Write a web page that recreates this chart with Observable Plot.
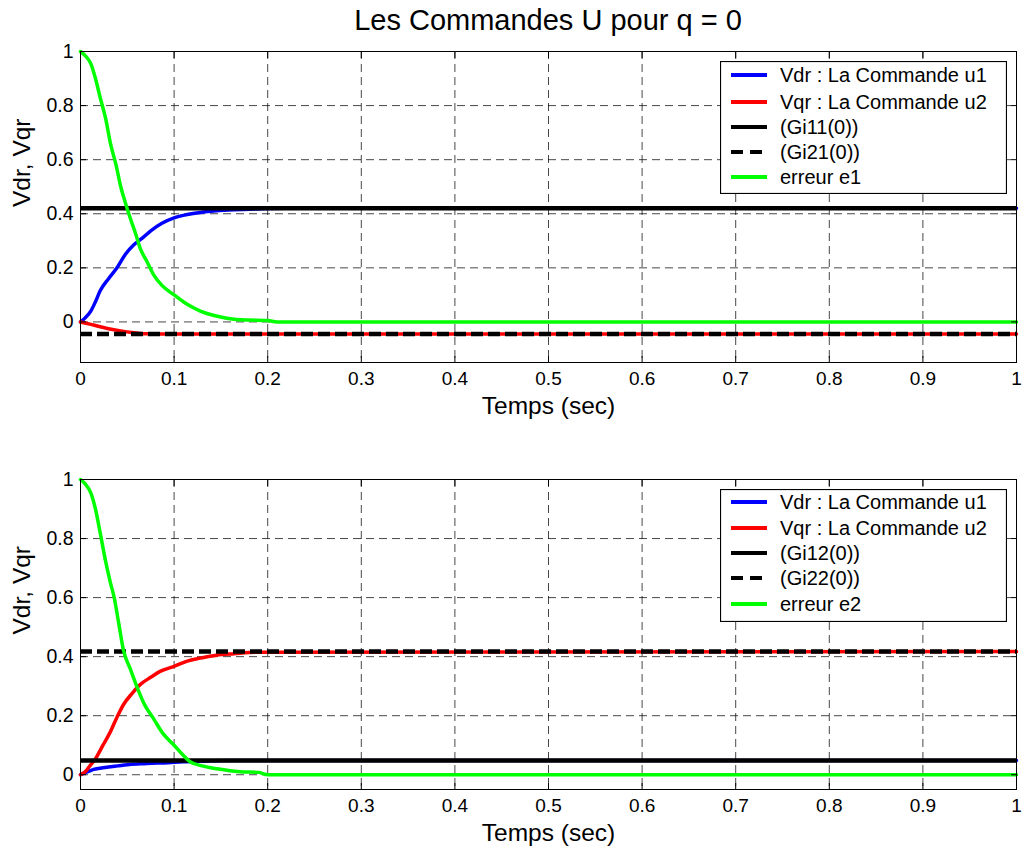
<!DOCTYPE html>
<html><head><meta charset="utf-8">
<script src="https://cdn.jsdelivr.net/npm/d3@7"></script>
<script src="https://cdn.jsdelivr.net/npm/@observablehq/plot@0.6"></script>
<style>
body{margin:0;background:#fff;}
#root{position:relative;width:1024px;height:855px;font-family:"Liberation Sans",Arial,sans-serif;background:#fff;overflow:hidden}
.abs{position:absolute}
#title{left:80px;width:936px;top:6px;text-align:center;font-size:29px;line-height:29px;color:#000;white-space:nowrap}
</style></head><body>
<div id="root"><div id="title" class="abs"></div></div>
<script>
const title = "Les Commandes U pour q = 0";
const xLabel = "Temps (sec)";
const yLabel = "Vdr, Vqr";
const xTicks = [0, 0.1, 0.2, 0.3, 0.4, 0.5, 0.6, 0.7, 0.8, 0.9, 1];
const yTicks = [0, 0.2, 0.4, 0.6, 0.8, 1];
const legend1 = ["Vdr : La Commande u1", "Vqr : La Commande u2", "(Gi11(0))", "(Gi21(0))", "erreur e1"];
const legend2 = ["Vdr : La Commande u1", "Vqr : La Commande u2", "(Gi12(0))", "(Gi22(0))", "erreur e2"];

// ---- top panel (gains Gi11, Gi21) ----
const gi11 = 0.42, gi21 = -0.045;
const tTopU1 = [0, 0.005, 0.011, 0.016, 0.021, 0.03, 0.039, 0.048, 0.057, 0.066, 0.075, 0.087, 0.1, 0.114, 0.128, 0.145, 0.164, 0.19, 0.22, 1];
const vTopU1 = [0, 0.015, 0.04, 0.075, 0.115, 0.16, 0.2, 0.25, 0.285, 0.31, 0.337, 0.365, 0.385, 0.397, 0.405, 0.411, 0.415, 0.418, 0.42, 0.42];
const tTopU2 = [0, 0.01, 0.02, 0.03, 0.043, 0.055, 0.071, 0.085, 0.1, 1];
const vTopU2 = [0, -0.008, -0.017, -0.025, -0.033, -0.039, -0.044, -0.045, -0.045, -0.045];
const tTopE1 = [0, 0.005, 0.011, 0.016, 0.021, 0.027, 0.032, 0.038, 0.043, 0.048, 0.053, 0.059, 0.064, 0.07, 0.078, 0.087, 0.1, 0.114, 0.128, 0.145, 0.164, 0.18, 0.2, 0.21, 1];
const vTopE1 = [1, 0.985, 0.955, 0.9, 0.83, 0.75, 0.66, 0.58, 0.5, 0.44, 0.385, 0.325, 0.27, 0.23, 0.175, 0.135, 0.1, 0.065, 0.04, 0.022, 0.01, 0.007, 0.005, 0, 0];

// ---- bottom panel (gains Gi12, Gi22) ----
const gi12 = 0.048, gi22 = 0.417;
const tBotU1 = [0, 0.005, 0.01, 0.014, 0.021, 0.03, 0.04, 0.05, 0.064, 0.076, 0.089, 0.11, 0.13, 0.16, 1];
const vBotU1 = [0, 0.007, 0.013, 0.018, 0.022, 0.026, 0.03, 0.034, 0.037, 0.039, 0.04, 0.044, 0.046, 0.048, 0.048];
const tBotU2 = [0, 0.005, 0.01, 0.016, 0.024, 0.032, 0.039, 0.046, 0.055, 0.064, 0.075, 0.085, 0.1, 0.114, 0.128, 0.145, 0.164, 0.19, 1];
const vBotU2 = [0, 0.01, 0.03, 0.054, 0.1, 0.146, 0.195, 0.238, 0.275, 0.306, 0.33, 0.35, 0.367, 0.385, 0.395, 0.405, 0.41, 0.415, 0.417];
const tBotE2 = [0, 0.005, 0.011, 0.016, 0.021, 0.027, 0.032, 0.036, 0.041, 0.046, 0.053, 0.06, 0.068, 0.078, 0.088, 0.1, 0.11, 0.117, 0.13, 0.146, 0.17, 0.19, 0.2, 1];
const vBotE2 = [1, 0.985, 0.955, 0.9, 0.82, 0.72, 0.65, 0.6, 0.51, 0.42, 0.36, 0.3, 0.24, 0.19, 0.14, 0.1, 0.065, 0.044, 0.03, 0.02, 0.01, 0.008, 0.0, 0];

const font = '"Liberation Sans", Arial, sans-serif';
const fmt = d => String(d);
const zip = (t, v) => t.map((x, i) => ({t: x, v: v[i]}));

function panel({height, marginTop, marginBottom, yDomain, u1, u2, giSolid, giDash, err}) {
  const lineOpts = (color) => ({x: "t", y: "v", stroke: color, strokeWidth: 3.5, curve: "monotone-x"});
  const gridStyle = {stroke: "#000", strokeOpacity: 0.72, strokeWidth: 1, strokeDasharray: "8,5"};
  return Plot.plot({
    width: 1024, height, marginTop, marginBottom, marginLeft: 80, marginRight: 8,
    style: {fontFamily: font, background: "transparent", color: "#000", overflow: "visible"},
    x: {domain: [0, 1]},
    y: {domain: yDomain},
    marks: [
      Plot.gridX(xTicks, gridStyle),
      Plot.gridY(yTicks, gridStyle),
      Plot.line(u1, lineOpts("#0000ff")),
      Plot.line(u2, lineOpts("#ff0000")),
      Plot.ruleY([giSolid], {stroke: "#000", strokeWidth: 4.5}),
      Plot.ruleY([giDash], {stroke: "#000", strokeWidth: 4.5, strokeDasharray: "12,5"}),
      Plot.line(err, lineOpts("#00ff00")),
      Plot.frame({stroke: "#000", strokeWidth: 1}),
      Plot.axisX(xTicks, {anchor: "bottom", tickSize: -6, tickPadding: 15, fontSize: 19, tickFormat: fmt, label: null}),
      Plot.axisX(xTicks, {anchor: "top", tickSize: -6, tickFormat: () => "", label: null}),
      Plot.axisY(yTicks, {anchor: "left", tickSize: -6, tickPadding: 13, fontSize: 19.5, tickFormat: fmt, label: null}),
      Plot.axisY(yTicks, {anchor: "right", tickSize: -6, tickFormat: () => "", label: null}),
      Plot.text([xLabel], {text: d => d, frameAnchor: "bottom", dy: 51, fontSize: 24.5}),
      Plot.text([yLabel], {text: d => d, frameAnchor: "left", dx: -58, rotate: -90, fontSize: 24.5})
    ]
  });
}

function legend(labels, top, rowYs) {
  const colors = ["#0000ff", "#ff0000", "#000", "#000", "#00ff00"];
  const dashes = [null, null, null, "12,7", null];
  const svg = d3.create("svg").attr("width", 287).attr("height", 133)
    .style("position", "absolute").style("left", "720px").style("top", top + "px");
  svg.append("rect").attr("x", 0.5).attr("y", 0.5).attr("width", 286).attr("height", 132)
    .attr("fill", "#fff").attr("stroke", "#000").attr("stroke-width", 1.2);
  labels.forEach((lab, i) => {
    const y = rowYs[i];
    svg.append("line").attr("x1", 11).attr("x2", 47).attr("y1", y).attr("y2", y)
      .attr("stroke", colors[i]).attr("stroke-width", 4).attr("stroke-dasharray", dashes[i]);
    svg.append("text").attr("x", 60).attr("y", y).attr("dy", "0.36em")
      .attr("font-family", font).attr("font-size", 20).attr("fill", "#000").text(lab);
  });
  return svg.node();
}

const root = document.getElementById("root");
document.getElementById("title").textContent = title;

const p1 = panel({height: 400, marginTop: 11, marginBottom: 78, yDomain: [-0.15, 1],
  u1: zip(tTopU1, vTopU1), u2: zip(tTopU2, vTopU2), giSolid: gi11, giDash: gi21, err: zip(tTopE1, vTopE1)});
const w1 = document.createElement("div"); w1.className = "abs"; w1.style.left = "0px"; w1.style.top = "40px";
w1.appendChild(p1); root.appendChild(w1);

const p2 = panel({height: 415, marginTop: 39, marginBottom: 66, yDomain: [-0.05, 1],
  u1: zip(tBotU1, vBotU1), u2: zip(tBotU2, vBotU2), giSolid: gi12, giDash: gi22, err: zip(tBotE2, vBotE2)});
const w2 = document.createElement("div"); w2.className = "abs"; w2.style.left = "0px"; w2.style.top = "440px";
w2.appendChild(p2); root.appendChild(w2);

root.appendChild(legend(legend1, 61, [14, 41, 66, 91, 116]));
root.appendChild(legend(legend2, 489, [13, 39, 64, 89, 115]));
</script>
</body></html>
